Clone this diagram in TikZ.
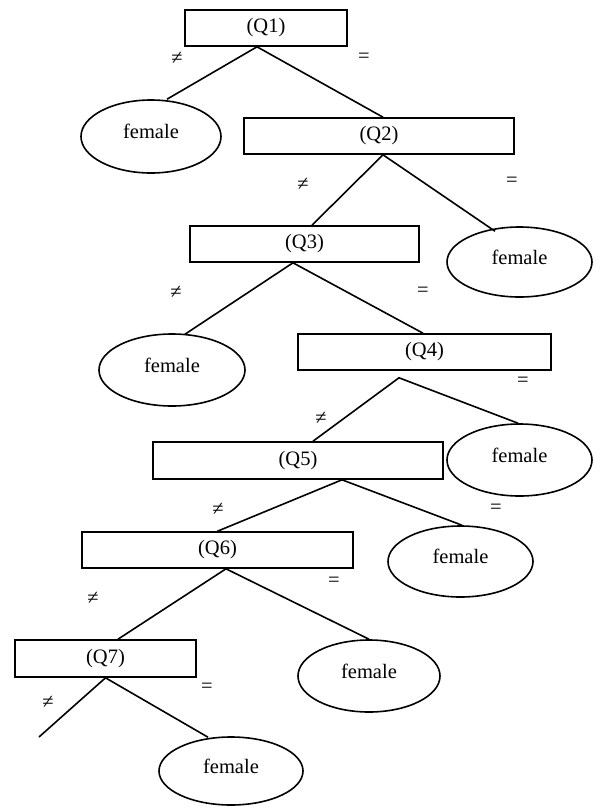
\documentclass[tikz,border=0pt]{standalone}
\usepackage{fontspec}
\setmainfont{Liberation Serif}
\usetikzlibrary{shapes.geometric}
\tikzset{
  qbox/.style={draw, line width=1.6pt, rectangle, inner sep=0pt, minimum height=36pt,
    font=\fontsize{20.5}{24}\selectfont},
  leaf/.style={draw, line width=1.6pt, ellipse, inner sep=0pt, text height=14pt, text depth=10pt,
    font=\fontsize{20.5}{24}\selectfont},
  edge/.style={line width=1.6pt},
  sym/.style={inner sep=0pt, font=\fontsize{20.5}{24}\selectfont}
}
\begin{document}
\begin{tikzpicture}[x=1pt, y=-1pt]
\useasboundingbox (0,0) rectangle (600,807);
% question boxes
\node[qbox, minimum width=162pt] (Q1) at (266,28) {(Q1)};
\node[qbox, minimum width=270pt] (Q2) at (379,136) {(Q2)};
\node[qbox, minimum width=229pt] (Q3) at (304.5,244) {(Q3)};
\node[qbox, minimum width=253pt] (Q4) at (424.5,352) {(Q4)};
\node[qbox, minimum width=290pt, minimum height=37pt] (Q5) at (298,460.5) {(Q5)};
\node[qbox, minimum width=271pt] (Q6) at (217.5,550) {(Q6)};
\node[qbox, minimum width=181pt, minimum height=37pt] (Q7) at (105.5,658.5) {(Q7)};
% leaves
\node[leaf, minimum width=140pt, minimum height=73pt] (F1) at (151,136.5) {female};
\node[leaf, minimum width=145pt, minimum height=70pt] (F2) at (519.5,262) {female};
\node[leaf, minimum width=146pt, minimum height=72pt] (F3) at (172,370) {female};
\node[leaf, minimum width=145pt, minimum height=72pt] (F4) at (519.5,460) {female};
\node[leaf, minimum width=145pt, minimum height=71pt] (F5) at (460.5,561.5) {female};
\node[leaf, minimum width=142pt, minimum height=72pt] (F6) at (369,676) {female};
\node[leaf, minimum width=144pt, minimum height=68pt] (F7) at (231,771) {female};
\coordinate (end7) at (39,737);
% connectors
\draw[edge] ([xshift=16pt]F1.north) -- ([xshift=-9pt]Q1.south) -- ([xshift=4pt]Q2.north);
\draw[edge] ([xshift=7.5pt]Q3.north) -- ([xshift=4pt]Q2.south) -- ([xshift=-24.5pt,yshift=-5pt]F2.north);
\draw[edge] ([xshift=13pt,yshift=-1pt]F3.north) -- ([xshift=-11.5pt]Q3.south) -- ([xshift=-1.5pt]Q4.north);
\draw[edge] ([xshift=15pt]Q5.north) -- ([xshift=-25.5pt,yshift=-7pt]Q4.south) -- ([xshift=-1.5pt]F4.north);
\draw[edge] (Q6.north) -- ([xshift=44pt]Q5.south) -- ([xshift=1.5pt]F5.north);
\draw[edge] ([xshift=12.5pt]Q7.north) -- ([xshift=8.5pt]Q6.south) -- (F6.north);
\draw[edge] (end7) -- (Q7.south) -- ([xshift=-23pt,yshift=-1pt]F7.north);
% branch labels
\node[sym] (n1) at (177,58) {≠};
\node[sym] (e1) at (364,58) {=};
\node[sym] (n2) at (303,184) {≠};
\node[sym] (e2) at (512,182) {=};
\node[sym] (n3) at (176,292) {≠};
\node[sym] (e3) at (423,292) {=};
\node[sym] (n4) at (321,418) {≠};
\node[sym] (e4) at (523,382) {=};
\node[sym] (n5) at (218,509) {≠};
\node[sym] (e5) at (496,509) {=};
\node[sym] (n6) at (93,598) {≠};
\node[sym] (e6) at (334,582) {=};
\node[sym] (n7) at (48,702) {≠};
\node[sym] (e7) at (207,688) {=};
\end{tikzpicture}
\end{document}
